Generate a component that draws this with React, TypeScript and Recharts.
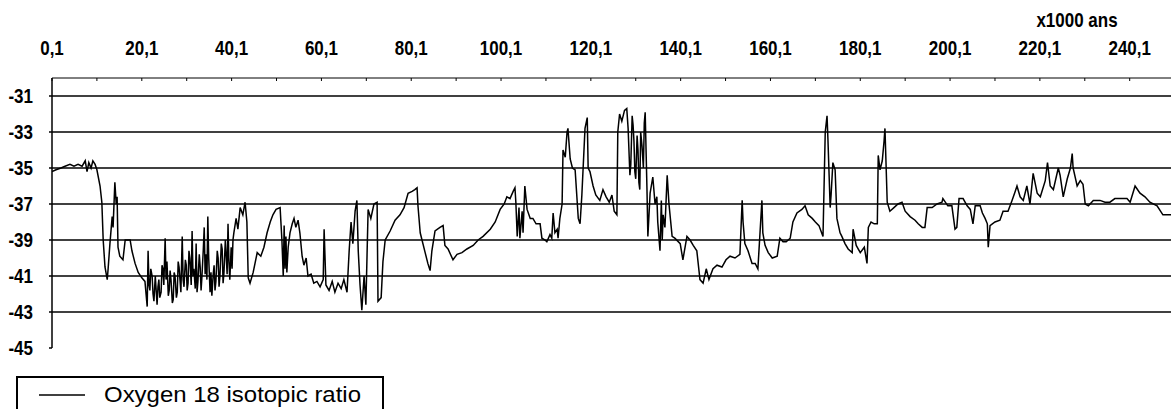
import { LineChart, Line, XAxis, YAxis, ReferenceLine, Legend } from 'recharts'

// Vostok-type record: age in thousands of years, oxygen 18 isotopic ratio
const isotopeSamples: [number, number][] = [
  [0.1, -35.2], [1.0, -35.1], [2.1, -35.0], [3.0, -34.9], [4.1, -34.8], [5.0, -34.9], [5.9, -34.8], [6.8, -34.9],
  [7.5, -34.6], [7.9, -35.2], [8.3, -34.7], [8.8, -35.0], [9.2, -34.6], [9.7, -34.8], [10.1, -35.1], [10.8, -36.0],
  [11.2, -36.9], [11.5, -39.0], [11.9, -40.5], [12.4, -41.2], [12.6, -40.6], [13.0, -39.2], [13.5, -37.7], [13.7, -38.3],
  [14.1, -35.8], [14.4, -37.0], [14.6, -36.6], [14.8, -39.4], [15.2, -39.9], [15.9, -40.1], [16.4, -39.0], [17.5, -39.0],
  [17.9, -39.6], [18.6, -40.3], [19.3, -40.8], [20.1, -41.1], [20.8, -41.3], [21.3, -42.7], [21.5, -39.6], [21.7, -41.5],
  [21.9, -41.8], [22.1, -40.6], [22.4, -41.0], [22.6, -42.0], [22.8, -42.4], [23.1, -41.0], [23.5, -42.6], [23.7, -41.6],
  [23.9, -41.2], [24.1, -42.2], [24.4, -41.9], [24.6, -40.4], [24.8, -40.6], [25.0, -41.5], [25.3, -38.9], [25.5, -41.2],
  [25.7, -40.2], [26.0, -42.1], [26.2, -41.8], [26.4, -40.7], [26.6, -41.2], [26.9, -42.5], [27.1, -42.3], [27.3, -40.8],
  [27.5, -41.0], [27.8, -42.2], [28.0, -41.9], [28.2, -40.2], [28.4, -40.5], [28.8, -41.9], [29.1, -38.8], [29.3, -41.2],
  [29.5, -41.6], [29.8, -40.1], [30.0, -40.4], [30.2, -41.8], [30.4, -41.4], [30.6, -39.6], [30.8, -40.0], [31.1, -41.5],
  [31.3, -38.5], [31.5, -41.0], [31.7, -40.6], [32.0, -41.7], [32.2, -39.2], [32.4, -41.9], [32.6, -41.3], [32.9, -39.8],
  [33.1, -40.5], [33.3, -41.8], [33.5, -41.0], [33.8, -39.5], [34.0, -38.3], [34.2, -40.9], [34.4, -39.8], [34.6, -41.2],
  [34.8, -37.7], [35.0, -40.0], [35.3, -41.9], [35.5, -40.8], [35.7, -42.1], [36.0, -40.9], [36.2, -40.4], [36.4, -41.8],
  [36.6, -41.3], [36.9, -39.6], [37.1, -40.0], [37.3, -41.6], [37.5, -41.0], [37.8, -39.2], [38.0, -39.5], [38.2, -41.4],
  [38.4, -40.8], [38.7, -39.0], [38.9, -39.9], [39.1, -40.9], [39.3, -38.1], [39.5, -40.2], [39.7, -41.2], [40.0, -39.4],
  [40.2, -40.6], [40.4, -39.0], [40.6, -38.6], [41.1, -37.8], [41.5, -38.4], [42.0, -37.2], [42.6, -37.6], [43.1, -36.9],
  [43.5, -38.0], [43.8, -41.1], [44.2, -41.4], [44.9, -40.8], [45.8, -39.7], [46.6, -39.9], [47.3, -39.4], [48.0, -38.6],
  [48.7, -38.0], [49.3, -37.6], [50.0, -37.3], [50.9, -37.2], [51.3, -39.0], [51.6, -41.0], [51.8, -38.2], [52.0, -40.6],
  [52.2, -38.8], [52.4, -40.8], [52.7, -39.4], [53.1, -38.6], [53.6, -38.1], [54.0, -37.8], [54.4, -38.3], [54.9, -37.9],
  [55.3, -38.6], [55.8, -39.9], [56.2, -40.4], [56.7, -40.0], [57.1, -41.0], [57.8, -40.9], [58.4, -41.4], [59.1, -41.3],
  [59.8, -41.6], [60.5, -41.2], [60.7, -38.4], [61.1, -41.5], [61.8, -41.8], [62.5, -41.3], [63.1, -41.9], [63.8, -41.4],
  [64.5, -41.7], [65.1, -41.2], [65.8, -41.9], [66.3, -39.5], [66.7, -38.0], [67.1, -39.2], [67.6, -37.4], [68.0, -36.8],
  [68.3, -39.6], [68.7, -41.5], [69.1, -42.9], [69.6, -41.0], [70.0, -42.6], [70.5, -37.3], [71.1, -37.8], [71.8, -37.0],
  [72.5, -36.9], [72.7, -42.4], [73.4, -42.2], [73.8, -40.2], [74.3, -39.0], [75.4, -38.5], [76.5, -37.9], [77.6, -37.6],
  [78.5, -37.2], [79.4, -36.4], [80.3, -36.3], [80.9, -36.2], [81.4, -36.1], [81.6, -37.1], [82.1, -38.6], [82.5, -39.0],
  [83.2, -39.7], [83.8, -40.3], [84.3, -40.7], [84.7, -39.6], [85.4, -38.5], [86.5, -38.3], [87.2, -38.2], [87.6, -39.3],
  [88.3, -39.5], [89.4, -40.1], [90.3, -39.8], [91.4, -39.7], [92.5, -39.5], [93.9, -39.3], [95.0, -39.0], [96.1, -38.8],
  [97.7, -38.4], [98.8, -38.0], [99.9, -37.3], [100.8, -37.0], [101.4, -36.6], [102.1, -36.7], [102.8, -36.3], [103.2, -36.1],
  [103.4, -36.9], [103.7, -38.8], [104.1, -37.2], [104.3, -38.9], [104.8, -37.4], [105.0, -38.6], [105.4, -36.0], [105.9, -37.3],
  [106.6, -37.8], [107.2, -37.8], [107.9, -38.1], [108.8, -38.1], [109.2, -38.9], [109.9, -39.0], [110.3, -39.1], [111.0, -38.7],
  [111.4, -38.9], [111.7, -37.5], [112.1, -38.6], [112.6, -38.4], [112.8, -38.9], [113.2, -37.8], [113.7, -37.0], [113.9, -34.0],
  [114.4, -34.4], [114.8, -33.0], [115.0, -32.8], [115.5, -34.5], [116.0, -35.0], [116.6, -35.1], [117.3, -37.8], [117.7, -38.1],
  [118.1, -36.5], [118.8, -32.8], [119.3, -32.2], [119.5, -35.0], [119.9, -35.2], [120.6, -36.0], [121.2, -36.5], [122.1, -36.8],
  [122.8, -36.2], [123.5, -36.6], [124.2, -36.9], [124.8, -36.5], [125.3, -37.4], [125.9, -37.6], [126.1, -33.0], [126.5, -32.0],
  [127.0, -32.4], [127.6, -31.8], [128.1, -31.7], [128.4, -32.8], [128.8, -35.4], [129.0, -34.8], [129.3, -32.1], [129.5, -32.6],
  [129.7, -33.5], [129.9, -35.2], [130.1, -35.6], [130.4, -33.2], [130.6, -34.0], [130.8, -35.8], [131.0, -36.2], [131.2, -33.0],
  [131.5, -33.8], [131.8, -35.0], [132.0, -32.5], [132.2, -31.9], [132.6, -36.2], [132.8, -38.8], [133.3, -36.4], [133.9, -35.5],
  [134.4, -37.0], [134.8, -36.6], [135.0, -38.0], [135.5, -39.6], [135.8, -36.8], [136.0, -39.0], [136.2, -37.6], [136.6, -38.3],
  [137.1, -35.4], [137.5, -37.0], [138.2, -38.8], [138.8, -38.9], [140.0, -39.2], [140.6, -40.1], [141.5, -38.8], [142.2, -39.0],
  [142.9, -39.3], [143.7, -39.6], [144.4, -41.2], [145.1, -41.4], [145.8, -40.6], [146.4, -41.2], [147.3, -40.6], [148.2, -40.4],
  [149.3, -40.5], [150.2, -40.1], [151.1, -39.9], [152.2, -40.0], [153.3, -39.8], [153.8, -36.8], [154.0, -38.0], [154.4, -39.2],
  [155.1, -39.6], [156.0, -40.3], [156.7, -40.3], [157.3, -40.6], [158.2, -36.8], [158.4, -38.6], [158.9, -39.3], [159.6, -39.7],
  [160.5, -40.0], [161.6, -39.9], [162.2, -38.9], [162.9, -39.1], [163.6, -39.1], [164.5, -38.9], [165.1, -38.0], [166.0, -37.5],
  [167.1, -37.3], [167.8, -37.1], [168.5, -37.6], [169.4, -37.8], [170.1, -38.0], [170.9, -38.2], [171.8, -38.8], [172.3, -33.0],
  [172.7, -32.1], [172.9, -33.4], [173.4, -37.2], [173.6, -36.5], [174.0, -34.7], [174.5, -35.1], [174.9, -37.8], [175.6, -38.6],
  [176.0, -38.8], [176.7, -39.2], [177.4, -39.5], [178.3, -39.7], [178.5, -38.4], [179.2, -39.3], [180.1, -39.7], [181.0, -39.4],
  [181.6, -40.3], [181.9, -38.3], [182.5, -38.0], [183.2, -38.1], [183.9, -38.1], [184.1, -34.3], [184.5, -35.1], [185.0, -34.6],
  [185.4, -33.5], [185.6, -32.8], [186.1, -36.9], [186.7, -37.4], [187.6, -37.2], [188.5, -37.0], [189.4, -36.9], [190.1, -37.4],
  [191.2, -37.7], [192.3, -37.9], [193.0, -38.1], [193.9, -38.3], [194.5, -38.3], [195.0, -37.2], [196.1, -37.2], [197.2, -37.0],
  [198.3, -36.9], [198.5, -36.7], [199.6, -37.1], [200.5, -37.1], [201.2, -38.4], [201.6, -38.3], [202.1, -36.7], [203.0, -36.7],
  [203.9, -37.1], [204.6, -37.3], [205.2, -38.1], [205.7, -37.1], [206.8, -37.1], [207.3, -37.5], [207.9, -37.8], [208.4, -38.1],
  [208.6, -39.4], [209.0, -38.2], [210.1, -38.0], [211.2, -37.9], [211.9, -37.4], [213.0, -37.4], [213.9, -36.8], [214.6, -36.3],
  [215.0, -36.0], [215.7, -36.6], [216.4, -36.8], [217.2, -36.0], [217.9, -37.0], [218.6, -35.3], [219.5, -36.4], [220.2, -36.6],
  [221.3, -35.7], [221.8, -34.7], [222.4, -36.0], [223.1, -36.2], [224.2, -35.0], [224.6, -35.4], [225.3, -36.6], [226.2, -35.6],
  [226.9, -35.0], [227.3, -34.2], [227.5, -35.0], [228.4, -36.0], [229.1, -35.7], [229.7, -35.9], [230.2, -37.0], [230.9, -37.1],
  [232.0, -36.8], [233.5, -36.8], [234.6, -36.9], [235.7, -36.9], [236.8, -36.7], [239.5, -36.7], [240.2, -36.9], [241.3, -36.0],
  [242.4, -36.4], [243.5, -36.6], [244.6, -36.9], [246.2, -37.1], [247.5, -37.6], [249.3, -37.6],
]

const ageTicks = [0.1, 10.1, 20.1, 30.1, 40.1, 50.1, 60.1, 70.1, 80.1, 90.1, 100.1, 110.1, 120.1,
  130.1, 140.1, 150.1, 160.1, 170.1, 180.1, 190.1, 200.1, 210.1, 220.1, 230.1, 240.1]
const ratioTicks = [-31, -33, -35, -37, -39, -41, -43, -45]
const gridLevels = [-31, -33, -35, -37, -39, -41, -43]

const data = isotopeSamples.map(([age, ratio]) => ({ age, ratio }))

const FONT = '"Liberation Sans", Arial, sans-serif'

const formatAge = (v: number) => v.toFixed(1).replace('.', ',')

const AgeTick = (props: any) => {
  const { x, y, payload, index } = props
  return (
    <g>
      <line x1={x} x2={x} y1={y} y2={y + 3} stroke="#000" />
      {index % 2 === 0 && (
        <text
          transform={`translate(${x},${y - 23}) scale(1,1.2)`}
          textAnchor="middle"
          fontFamily={FONT}
          fontSize={17}
          fontWeight="bold"
          fill="#000"
        >
          {formatAge(payload.value)}
        </text>
      )}
    </g>
  )
}

const RatioTick = (props: any) => {
  const { x, y, payload } = props
  return (
    <text
      transform={`translate(${x},${y + 7}) scale(1,1.2)`}
      textAnchor="end"
      fontFamily={FONT}
      fontSize={17}
      fontWeight="bold"
      fill="#000"
    >
      {payload.value}
    </text>
  )
}

const UnitLabel = (props: any) => {
  const { viewBox } = props
  return (
    <text
      transform={`translate(${viewBox.x + viewBox.width - 94},${viewBox.y - 21}) scale(1,1.2)`}
      textAnchor="middle"
      fontFamily={FONT}
      fontSize={17}
      fontWeight="bold"
      fill="#000"
    >
      x1000 ans
    </text>
  )
}

const LegendBox = () => (
  <svg width={368} height={34} style={{ display: 'block' }}>
    <rect x={1} y={1} width={366} height={40} fill="#fff" stroke="#000" strokeWidth={2} />
    <line x1={23} x2={69} y1={19} y2={19} stroke="#000" strokeWidth={1.5} />
    <text x={88} y={26} fontFamily={FONT} fontSize={22} fill="#000" textLength={257} lengthAdjust="spacingAndGlyphs">
      Oxygen 18 isotopic ratio
    </text>
  </svg>
)

export default function App() {
  return (
    <div style={{ position: 'absolute', left: 0, top: 0, width: 1171, height: 409, background: '#fff', overflow: 'hidden' }}>
      <LineChart width={1171} height={409} data={data} margin={{ top: 48, right: 0, bottom: 61, left: 0 }}>
        <XAxis
          dataKey="age"
          type="number"
          orientation="top"
          domain={[0.1, 249.3]}
          ticks={ageTicks}
          allowDataOverflow
          height={30}
          tickSize={0}
          tickMargin={0}
          tickLine={false}
          tick={<AgeTick />}
          axisLine={{ stroke: '#000', strokeWidth: 1 }}
          label={<UnitLabel />}
        />
        <YAxis
          type="number"
          domain={[-45, -30]}
          ticks={ratioTicks}
          width={52}
          tickSize={3}
          tickMargin={16}
          tick={<RatioTick />}
          tickLine={{ stroke: '#000', strokeWidth: 1.5 }}
          axisLine={{ stroke: '#000', strokeWidth: 1.5 }}
        />
        {gridLevels.map((level) => (
          <ReferenceLine key={level} y={level} stroke="#000" strokeWidth={1.5} />
        ))}
        <Line
          dataKey="ratio"
          type="linear"
          stroke="#000"
          strokeWidth={1.5}
          dot={false}
          isAnimationActive={false}
        />
        <Legend
          layout="horizontal"
          verticalAlign="middle"
          align="center"
          content={<LegendBox />}
          wrapperStyle={{ left: 16, top: 376, width: 368 }}
        />
      </LineChart>
    </div>
  )
}
